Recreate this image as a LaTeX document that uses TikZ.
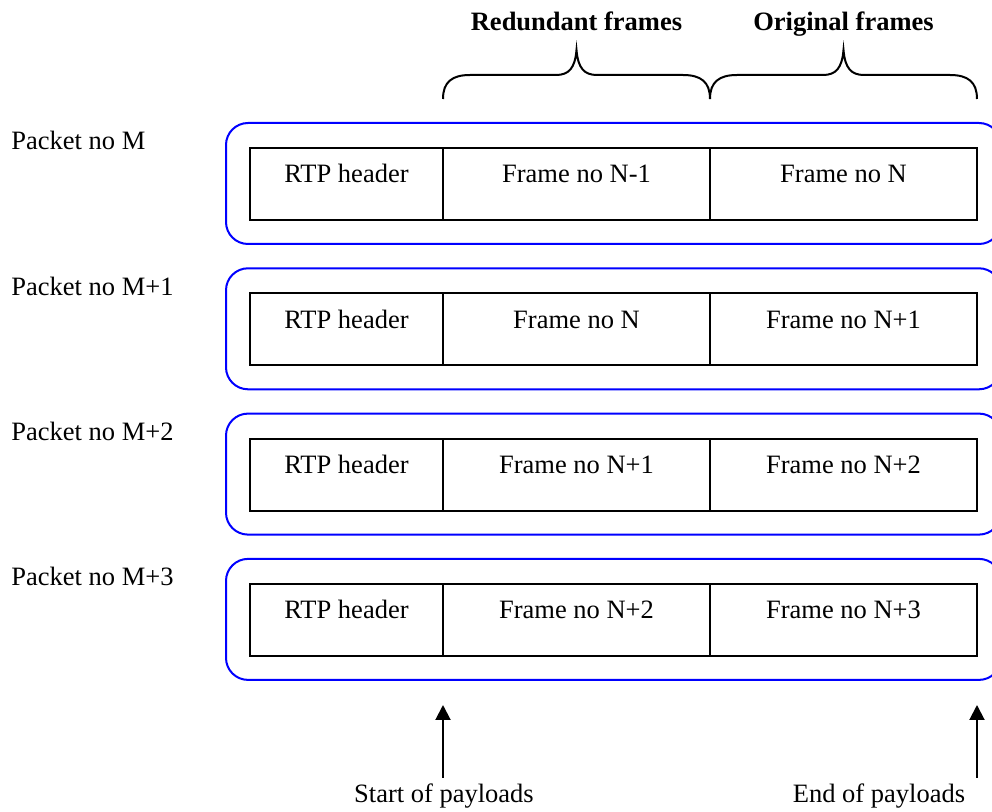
\documentclass[tikz,border=0pt]{standalone}
\usepackage{fontspec}
\setmainfont{Liberation Serif}
\usetikzlibrary{arrows.meta}
\begin{document}
\begin{tikzpicture}[x=0.5pt,y=-0.5pt,
  cell/.style={draw=black,line width=1pt,minimum height=36pt,inner sep=0pt,outer sep=0pt,anchor=north west},
  pkt/.style={draw=blue,line width=1pt,rounded corners=11pt,minimum width=387.5pt,minimum height=60.5pt,inner sep=0pt,outer sep=0pt,anchor=north west},
  txt/.style={font=\fontsize{13.25}{15}\selectfont,anchor=base,inner sep=0pt},
  btxt/.style={font=\fontsize{13.25}{15}\selectfont\bfseries,anchor=base,inner sep=0pt},
  brace/.style={draw=black,line width=1pt},
  arr/.style={draw=black,line width=1pt,-{Triangle[length=7.5pt,width=7.5pt]}}]
\clip (0,0) rectangle (992,812);
\fill[white] (0,0) rectangle (992,812);
\foreach \i/\a/\b/\p in {0/N-1/N/M, 1/N/N+1/M+1, 2/N+1/N+2/M+2, 3/N+2/N+3/M+3}{
  \pgfmathsetmacro\t{123+145.3*\i}
  \node[pkt] (pk\i) at (226,\t) {};
  \node[cell,minimum width=96.5pt] (h\i) at (250,\t+25) {};
  \node[cell,minimum width=133.5pt] (r\i) at (h\i.north east) {};
  \node[cell,minimum width=133.5pt] (o\i) at (r\i.north east) {};
  \node[txt] (th\i) at (346.5,\t+60) {RTP header};
  \node[txt] (tr\i) at (576.5,\t+60) {Frame no \a};
  \node[txt] (to\i) at (843.5,\t+60) {Frame no \b};
  \node[txt,anchor=base west] (lab\i) at (11,\t+27) {Packet no \p};
}
\node[btxt] (red) at (576.5,31) {Redundant frames};
\node[btxt] (orig) at (843.5,31) {Original frames};
\draw[brace] (443,99) .. controls (443,82) and (452,75) .. (470,75)
  -- (556,75) .. controls (569,75) and (575,68) .. (576.5,50)
  .. controls (578,68) and (584,75) .. (597,75)
  -- (683,75) .. controls (701,75) and (710,82) .. (710,99);
\draw[brace] (710,99) .. controls (710,82) and (719,75) .. (737,75)
  -- (823,75) .. controls (836,75) and (842,68) .. (843.5,50)
  .. controls (845,68) and (851,75) .. (864,75)
  -- (950,75) .. controls (968,75) and (977,82) .. (977,99);
\coordinate (s0) at (443,778);
\coordinate (s1) at (443,705);
\coordinate (e0) at (977,778);
\coordinate (e1) at (977,705);
\draw[arr] (s0) -- (s1);
\draw[arr] (e0) -- (e1);
\node[txt] (start) at (444,803) {Start of payloads};
\node[txt] (end) at (879,803) {End of payloads};
\end{tikzpicture}
\end{document}
